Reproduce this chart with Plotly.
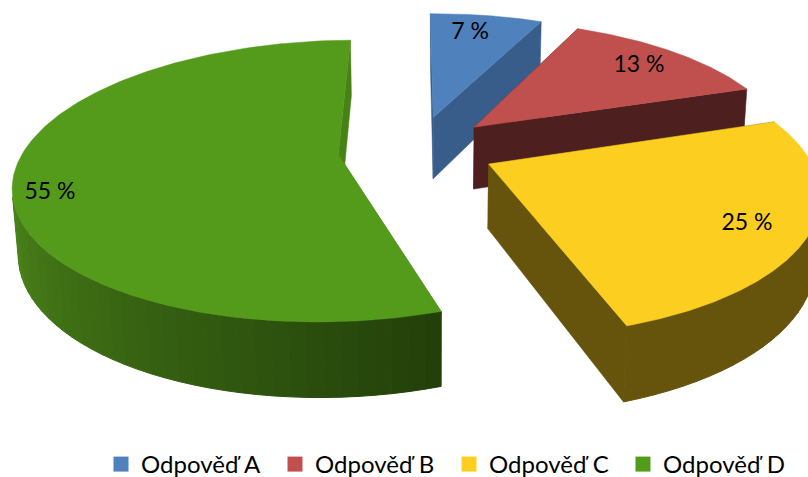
import numpy as np
import plotly.graph_objects as go

categories = ["Odpověď A", "Odpověď B", "Odpověď C", "Odpověď D"]
values = [7, 13, 25, 55]
top_colors = ["#4f81bd", "#c0504d", "#fbce1f", "#559b1b"]
wall_colors = ["#385d8a", "#4d1f1f", "#66540c", "#468215"]
rim_dark = ["#385d8a", "#4d1f1f", "#66540c", "#223f0a"]
rim_light = ["#385d8a", "#4d1f1f", "#66540c", "#52901d"]

# perspective camera of the 3-D pie (disc X, Y; depth Z) and slice explosion
CAM = np.array([
    [315.02, 77.489, 6.0574, 416.78],
    [-1.6658, -106.04, 66.5, 148.9],
    [-0.00088214, 0.18678, 0.013963, 1.0],
])
EXPLODE = 0.2502

edges = np.cumsum([0] + values) * 3.6
mids = (edges[:-1] + edges[1:]) / 2


def project(i, theta, z):
    m = np.radians(mids[i])
    if theta is None:
        X, Y = EXPLODE * np.sin(m), EXPLODE * np.cos(m)
    else:
        t = np.radians(theta)
        X, Y = np.sin(t) + EXPLODE * np.sin(m), np.cos(t) + EXPLODE * np.cos(m)
    w = CAM[2, 0] * X + CAM[2, 1] * Y + CAM[2, 2] * z + CAM[2, 3]
    return (
        (CAM[0, 0] * X + CAM[0, 1] * Y + CAM[0, 2] * z + CAM[0, 3]) / w,
        (CAM[1, 0] * X + CAM[1, 1] * Y + CAM[1, 2] * z + CAM[1, 3]) / w,
    )


def rgb(c):
    return np.array([int(c[k:k + 2], 16) for k in (1, 3, 5)], float)


fig = go.Figure()


def poly(x, y, col, lw=0.5):
    fig.add_trace(go.Scatter(x=x, y=y, mode="lines", fill="toself", fillcolor=col,
                             line=dict(color=col, width=lw), showlegend=False, hoverinfo="skip"))


for i in range(len(values)):
    th0, th1 = edges[i], edges[i + 1]
    for th in (th0, th1):
        ax, ay = project(i, None, 0)
        bx, by = project(i, None, 1)
        cx, cy = project(i, th, 1)
        dx, dy = project(i, th, 0)
        poly([ax, bx, cx, dx, ax], [ay, by, cy, dy, ay], wall_colors[i])
    t = np.linspace(th0, th1, max(6, int((th1 - th0) / 2.5)))
    for a, b in zip(t[:-1], t[1:]):
        f = min(1, (b - th0) / (th1 - th0) * 1.8)
        col = "rgb(%d,%d,%d)" % tuple(rgb(rim_dark[i]) * (1 - f) + rgb(rim_light[i]) * f)
        x0, y0 = project(i, a, 0)
        x1, y1 = project(i, b, 0)
        x2, y2 = project(i, b, 1)
        x3, y3 = project(i, a, 1)
        # outer wall only where it faces the viewer
        area = (x1 - x0) * (y3 - y0) - (y1 - y0) * (x3 - x0)
        if area < 0:
            poly([x0, x1, x2, x3, x0], [y0, y1, y2, y3, y0], col, 1)
    t = np.linspace(th0, th1, 200)
    xa, ya = project(i, t, 0)
    ax, ay = project(i, None, 0)
    poly(np.r_[ax, xa, ax], np.r_[ay, ya, ay], top_colors[i])

for n, name in enumerate(categories):
    fig.add_trace(go.Scatter(x=[None], y=[None], mode="markers", name=name,
                             marker=dict(symbol="square", size=15, color=top_colors[n])))

label_x = [470, 639, 747, 50]
label_y = [33, 66, 224, 193]
fig.add_trace(go.Scatter(x=label_x, y=label_y, mode="text", text=[f"{v} %" for v in values],
                         textfont=dict(family="Lato", size=23, color="#000"),
                         showlegend=False, hoverinfo="skip"))

fig.update_layout(
    width=808, height=497, margin=dict(l=0, r=0, t=0, b=20),
    plot_bgcolor="#fff", paper_bgcolor="#fff",
    xaxis=dict(range=[0, 808], visible=False, fixedrange=True),
    yaxis=dict(range=[477, 0], visible=False, fixedrange=True),
    legend=dict(orientation="h", x=0.125, y=0.0734, yanchor="top", xanchor="left",
                entrywidth=129, itemwidth=30,
                font=dict(family="Lato", size=24, color="#000"), bgcolor="rgba(0,0,0,0)"),
)
fig.write_html("out.html", config={"displayModeBar": False},
               post_script="document.body.style.margin='0';document.body.style.overflow='hidden';document.documentElement.style.overflow='hidden';")
